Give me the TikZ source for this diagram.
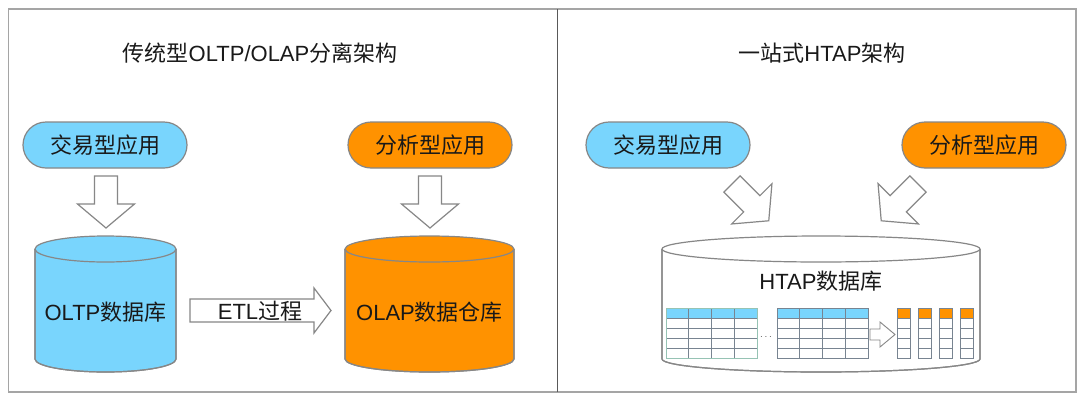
\documentclass[tikz,border=0pt]{standalone}
\usepackage{fontspec}
\setmainfont{Liberation Sans}
\newfontfamily\cjk{Noto Sans CJK SC}
\definecolor{appblue}{RGB}{121,213,253}
\definecolor{apporange}{RGB}{255,146,0}
\definecolor{edgegray}{RGB}{135,135,135}
\definecolor{framegray}{RGB}{165,165,165}
\definecolor{gridgray}{RGB}{120,132,145}
\definecolor{tealgray}{RGB}{150,195,180}
\tikzset{
  label22/.style={font=\fontsize{22}{26}\selectfont, text=black!90, inner sep=0pt},
  pill/.style={label22, draw=edgegray, line width=1.2pt, rounded corners=23pt,
    minimum width=164pt, minimum height=46pt},
  cyl/.style={draw=edgegray, line width=1.2pt},
  barrow/.style={draw=edgegray, fill=white, line width=1.2pt, line join=miter},
  gridline/.style={draw=gridgray, line width=0.7pt},
  blockarrow/.pic={\draw[barrow] (0,-11.5) -- (28,-11.5) -- (28,-28.5) -- (52,0)
     -- (28,28.5) -- (28,11.5) -- (0,11.5) -- cycle;}
}
% cylinder: #1 cx, #2 rx, #3 fill
\newcommand\drawcyl[3]{%
  \path[cyl, fill=#3] ({#1-#2},249) -- ({#1-#2},359)
    .. controls ({#1-#2},366.2) and ({#1-0.5523*#2},372) .. (#1,372)
    .. controls ({#1+0.5523*#2},372) and ({#1+#2},366.2) .. ({#1+#2},359)
    -- ({#1+#2},249);
  \draw[cyl] ({#1-#2},249) -- ({#1-#2},359)
    .. controls ({#1-#2},366.2) and ({#1-0.5523*#2},372) .. (#1,372)
    .. controls ({#1+0.5523*#2},372) and ({#1+#2},366.2) .. ({#1+#2},359)
    -- ({#1+#2},249);
  \draw[cyl, fill=#3] (#1,249) ellipse [x radius=#2, y radius=13];
}
% row table: #1 x0, #2 border colour
\newcommand\drawrowtable[2]{%
  \fill[appblue] (#1,308) rectangle ({#1+91},318);
  \foreach \yy in {318,328,338,348} \draw[gridline] (#1,\yy) -- ({#1+91},\yy);
  \foreach \cc in {1,2,3} \draw[gridline] ({#1+22.75*\cc},308) -- ({#1+22.75*\cc},358);
  \draw[draw=#2, line width=0.9pt] (#1,308) rectangle ({#1+91},358);
}
% column table: #1 x0
\newcommand\drawcoltable[1]{%
  \fill[apporange] (#1,308) rectangle ({#1+13.5},318);
  \foreach \yy in {318,328,338,348} \draw[gridline] (#1,\yy) -- ({#1+13.5},\yy);
  \draw[gridline, line width=0.9pt] (#1,308) rectangle ({#1+13.5},358);
}
\begin{document}
\begin{tikzpicture}[x=1pt,y=-1pt]
\useasboundingbox[fill=white] (0,0) rectangle (1080,397);
% frame
\draw[framegray, line width=1.5pt] (8.5,9) rectangle (1076,392);
\draw[black!65, line width=1.5pt] (557.5,9) -- (557.5,392);

% titles
\node[label22] (t1) at (260,53) {{\cjk 传统型}OLTP/OLAP{\cjk 分离架构}};
\node[label22] (t2) at (822,53) {{\cjk 一站式}HTAP{\cjk 架构}};

% left panel
\node[pill, fill=appblue] (oltpapp) at (105,145) {\cjk 交易型应用};
\node[pill, fill=apporange] (olapapp) at (430,145) {\cjk 分析型应用};
\pic[rotate=-90] at (106,176) {blockarrow};
\pic[rotate=-90] at (430,176) {blockarrow};
\drawcyl{105.5}{70.5}{appblue}
\drawcyl{429.5}{84.5}{apporange}
\node[label22] (oltpdb) at (105.5,312) {OLTP{\cjk 数据库}};
\node[label22] (olapdb) at (429.5,312) {OLAP{\cjk 数据仓库}};
\draw[barrow] (190,299) -- (314,299) -- (314,288) -- (331,310.5) -- (314,333)
   -- (314,322) -- (190,322) -- cycle;
\node[label22] (etl) at (260,311) {ETL{\cjk 过程}};

% right panel
\node[pill, fill=appblue] (htapoltp) at (668,145) {\cjk 交易型应用};
\node[pill, fill=apporange] (htapolap) at (984,145) {\cjk 分析型应用};
\pic[rotate=-45] at (732,184) {blockarrow};
\pic[rotate=-135] at (918,184) {blockarrow};
\drawcyl{821}{159}{white}
\node[label22] (htapdb) at (821,281) {HTAP{\cjk 数据库}};
\drawrowtable{666}{tealgray}
\drawrowtable{777}{gridgray}
\node[font=\fontsize{10}{12}\selectfont, text=black!70, inner sep=0pt] (dots) at (766,337) {$\cdots$};
\draw[barrow, line width=0.9pt] (870,329) -- (880,329) -- (880,322) -- (895,334.5)
   -- (880,347) -- (880,340) -- (870,340) -- cycle;
\drawcoltable{897}
\drawcoltable{918}
\drawcoltable{939}
\drawcoltable{960}
\end{tikzpicture}
\end{document}
